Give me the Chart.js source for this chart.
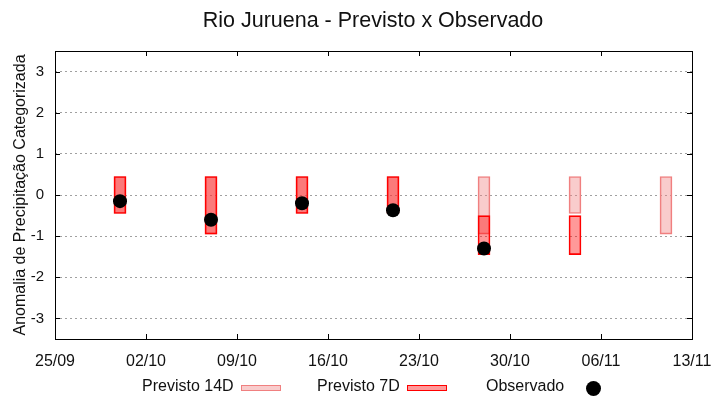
<!DOCTYPE html>
<html>
<head>
<meta charset="utf-8">
<script src="https://cdn.jsdelivr.net/npm/chart.js@4"></script>
<style>
  body { margin: 0; background: #fff; }
  #wrap { position: relative; width: 720px; height: 400px; font-family: "Liberation Sans", Arial, sans-serif; color: #111; }
  #titulo { position: absolute; top: 8px; left: 173px; width: 400px; text-align: center; font-size: 21.5px; }
  .leg { position: absolute; top: 376px; font-size: 16px; line-height: 20px; }
  .caixa { position: absolute; top: 385px; width: 38px; height: 4px; }
  .ponto { position: absolute; left: 586px; top: 381px; width: 15px; height: 15px; border-radius: 50%; background: #000; }
</style>
</head>
<body>
<div id="wrap">
  <canvas id="myChart" width="720" height="400"></canvas>
  <div id="titulo">Rio Juruena - Previsto x Observado</div>
  <div class="leg" style="left:142px">Previsto 14D</div>
  <div class="caixa" style="left:241px; background:rgba(240,128,128,0.4); border:1px solid rgb(240,128,128)"></div>
  <div class="leg" style="left:317px">Previsto 7D</div>
  <div class="caixa" style="left:407px; background:rgba(255,0,0,0.4); border:1px solid rgb(255,0,0)"></div>
  <div class="leg" style="left:486px">Observado</div>
  <div class="ponto"></div>
</div>
<script>
var datas = ["30/09", "07/10", "14/10", "21/10", "28/10", "04/11", "11/11"];
var prev14_min = [-0.45, -0.95, -0.45, -0.45, -0.95, -0.45, -0.95];
var prev14_max = [0.45, 0.45, 0.45, 0.45, 0.45, 0.45, 0.45];
var prev7_min = [-0.45, -0.95, -0.45, -0.45, -1.45, -1.45, null];
var prev7_max = [0.45, 0.45, 0.45, 0.45, -0.5, -0.5, null];
var observado = [-0.15, -0.6, -0.2, -0.37, -1.3, null, null];
var xTicks = ["25/09", "02/10", "09/10", "16/10", "23/10", "30/10", "06/11", "13/11"];
var yTicks = [-3, -2, -1, 0, 1, 2, 3];

// dias desde 25/09
function dia(s) {
  var p = s.split("/");
  return (Date.UTC(2023, +p[1] - 1, +p[0]) - Date.UTC(2023, 8, 25)) / 86400000;
}

var d14 = [], d7 = [], dObs = [];
for (var i = 0; i < datas.length; i++) {
  var x = dia(datas[i]);
  d14.push({ x: x, y: [prev14_min[i], prev14_max[i]] });
  if (prev7_min[i] != null) d7.push({ x: x, y: [prev7_min[i], prev7_max[i]] });
  if (observado[i] != null) dObs.push({ x: x, y: observado[i] });
}

var moldura = {
  id: "moldura",
  afterDraw: function (chart) {
    var a = chart.chartArea, c = chart.ctx;
    var sx = chart.scales.x, sy = chart.scales.y;
    c.save();
    c.strokeStyle = "#000";
    c.lineWidth = 1;
    c.beginPath();
    yTicks.forEach(function (v) {
      var py = Math.round(sy.getPixelForValue(v)) + 0.5;
      c.moveTo(a.left, py); c.lineTo(a.left + 5, py);
      c.moveTo(a.right, py); c.lineTo(a.right - 5, py);
    });
    for (var k = 1; k < xTicks.length - 1; k++) {
      var px = Math.round(sx.getPixelForValue(k * 7)) + 0.5;
      c.moveTo(px, a.bottom); c.lineTo(px, a.bottom - 5);
      c.moveTo(px, a.top); c.lineTo(px, a.top + 5);
    }
    c.stroke();
    c.strokeRect(Math.round(a.left) + 0.5, Math.round(a.top) + 0.5, Math.round(a.right - a.left), Math.round(a.bottom - a.top));
    c.restore();
  }
};

new Chart("myChart", {
  type: "bar",
  data: {
    datasets: [
      {
        type: "scatter",
        label: "Observado",
        data: dObs,
        pointRadius: 7,
        pointHoverRadius: 7,
        pointBackgroundColor: "#000",
        pointBorderWidth: 0,
        order: 0,
      },
      {
        label: "Previsto 7D",
        data: d7,
        backgroundColor: "rgba(255,0,0,0.4)",
        borderColor: "rgb(255,0,0)",
        borderWidth: 1,
        borderSkipped: false,
        barThickness: 12,
        grouped: false,
        order: 1,
      },
      {
        label: "Previsto 14D",
        data: d14,
        backgroundColor: "rgba(240,128,128,0.4)",
        borderColor: "rgb(240,128,128)",
        borderWidth: 1,
        borderSkipped: false,
        barThickness: 12,
        grouped: false,
        order: 2,
      },
    ],
  },
  options: {
    responsive: false,
    animation: false,
    events: [],
    layout: { padding: { top: 51, right: 28, bottom: 31, left: 0 } },
    plugins: { legend: false, title: false, tooltip: { enabled: false } },
    scales: {
      x: {
        type: "linear",
        min: 0,
        max: 49,
        offset: false,
        afterFit: function (s) { s.height = 30; },
        afterBuildTicks: function (s) {
          s.ticks = xTicks.map(function (t, k) { return { value: k * 7 }; });
        },
        grid: { display: false, offset: false },
        border: { display: false },
        ticks: {
          autoSkip: false,
          maxRotation: 0,
          padding: 5,
          color: "#111",
          font: { family: "Liberation Sans", size: 16 },
          callback: function (v) { return xTicks[v / 7]; },
        },
      },
      y: {
        min: -3.5,
        max: 3.5,
        afterFit: function (s) { s.width = 55; },
        afterBuildTicks: function (s) {
          s.ticks = yTicks.map(function (v) { return { value: v }; });
        },
        grid: { color: "#a0a0a0", drawTicks: false },
        border: { display: false, dash: [2, 3] },
        ticks: {
          padding: 11,
          color: "#111",
          font: { family: "Liberation Sans", size: 15 },
        },
        title: {
          display: true,
          text: "Anomalia de Precipitação Categorizada",
          color: "#111",
          font: { family: "Liberation Sans", size: 16 },
          padding: { top: 11, bottom: 0 },
        },
      },
    },
  },
  plugins: [moldura],
});
</script>
</body>
</html>
